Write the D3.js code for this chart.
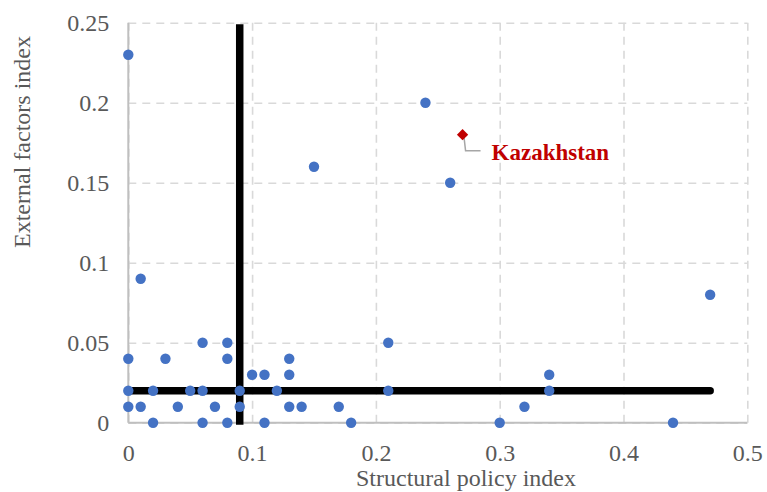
<!DOCTYPE html>
<html>
<head>
<meta charset="utf-8">
<script src="https://cdn.jsdelivr.net/npm/d3@7"></script>
<style>
  body { margin: 0; background: #fff; }
  svg { display: block; font-family: "Liberation Serif", "Times New Roman", serif; }
</style>
</head>
<body>
<div class="wrapper"></div>
<script>
// structural policy index (x) and external factors index (y) per country
const policyIndex = [0, 0.01, 0.15, 0.24, 0.26, 0.47,
  0, 0.03, 0.06, 0.08, 0.08, 0.1, 0.11, 0.13, 0.13, 0.21, 0.34,
  0, 0.02, 0.05, 0.06, 0.09, 0.12, 0.21, 0.34,
  0, 0.01, 0.04, 0.07, 0.09, 0.13, 0.14, 0.17, 0.32,
  0.02, 0.06, 0.08, 0.11, 0.18, 0.3, 0.44];
const externalIndex = [0.23, 0.09, 0.16, 0.2, 0.15, 0.08,
  0.04, 0.04, 0.05, 0.05, 0.04, 0.03, 0.03, 0.04, 0.03, 0.05, 0.03,
  0.02, 0.02, 0.02, 0.02, 0.02, 0.02, 0.02, 0.02,
  0.01, 0.01, 0.01, 0.01, 0.01, 0.01, 0.01, 0.01, 0.01,
  0, 0, 0, 0, 0, 0, 0];
const highlight = { name: "Kazakhstan", x: 0.27, y: 0.18 };
const xThreshold = 0.09;
const yThreshold = 0.02;
const yLineEnd = 0.47;
const xTicks = [0, 0.1, 0.2, 0.3, 0.4, 0.5];
const yTicks = [0, 0.05, 0.1, 0.15, 0.2, 0.25];

const width = 767, height = 492;
const plotLeft = 128.3, plotRight = 747.3, plotTop = 22.7, plotBottom = 422.7;

const svg = d3.select(".wrapper").append("svg")
  .attr("width", width)
  .attr("height", height);

const x = d3.scaleLinear().domain([0, 0.5]).range([plotLeft, plotRight]);
const y = d3.scaleLinear().domain([0, 0.25]).range([plotBottom, plotTop]);

// gridlines + tick labels
const xAxis = svg.append("g")
  .attr("transform", "translate(0," + plotBottom + ")")
  .call(d3.axisBottom(x).tickValues(xTicks).tickFormat(d3.format("")).tickSize(-(plotBottom - plotTop)).tickPadding(0));
const yAxis = svg.append("g")
  .attr("transform", "translate(" + plotLeft + ",0)")
  .call(d3.axisLeft(y).tickValues(yTicks).tickFormat(d3.format("")).tickSize(-(plotRight - plotLeft)).tickPadding(0));

[xAxis, yAxis].forEach(g => {
  g.select(".domain").remove();
  g.selectAll(".tick line")
    .attr("stroke", "#d9d9d9")
    .attr("stroke-width", 1.6)
    .attr("stroke-dasharray", "8,6");
  g.selectAll(".tick text")
    .attr("fill", "#595959")
    .style("font-size", "24px")
    .style("font-family", "Liberation Serif, serif");
});
xAxis.selectAll(".tick text").attr("y", 38).attr("dy", null);
yAxis.selectAll(".tick text").attr("x", -19).attr("dy", "0.34em");

// axis lines
svg.append("line")
  .attr("x1", x(0)).attr("x2", x(0.5))
  .attr("y1", y(0)).attr("y2", y(0))
  .attr("stroke", "#bfbfbf").attr("stroke-width", 2);
svg.append("line")
  .attr("x1", x(0)).attr("x2", x(0))
  .attr("y1", y(0)).attr("y2", y(0.25))
  .attr("stroke", "#bfbfbf").attr("stroke-width", 2);

// threshold lines
svg.append("line")
  .attr("x1", x(xThreshold)).attr("x2", x(xThreshold))
  .attr("y1", y(0.25) + 1.5).attr("y2", y(0) + 2)
  .attr("stroke", "#000").attr("stroke-width", 7.5);
svg.append("line")
  .attr("x1", x(0)).attr("x2", x(yLineEnd))
  .attr("y1", y(yThreshold)).attr("y2", y(yThreshold))
  .attr("stroke", "#000").attr("stroke-width", 7.5)
  .attr("stroke-linecap", "round");

// points
svg.append("g")
  .selectAll("circle")
  .data(d3.range(policyIndex.length))
  .enter()
  .append("circle")
  .attr("cx", i => x(policyIndex[i]))
  .attr("cy", i => y(externalIndex[i]))
  .attr("r", 5.2)
  .attr("fill", "#4472c4");

// highlighted country
const hx = x(highlight.x), hy = y(highlight.y);
svg.append("path")
  .attr("d", "M" + (hx + 1.5) + "," + (hy + 3) + "L" + (hx + 3) + "," + (hy + 16) + "L" + (hx + 18) + "," + (hy + 16))
  .attr("fill", "none")
  .attr("stroke", "#a6a6a6")
  .attr("stroke-width", 1.5);
svg.append("rect")
  .attr("x", hx - 4).attr("y", hy - 4)
  .attr("width", 8).attr("height", 8)
  .attr("transform", "rotate(45," + hx + "," + hy + ")")
  .attr("fill", "#c00000");
svg.append("text")
  .attr("x", hx + 29)
  .attr("y", hy + 25)
  .attr("fill", "#c00000")
  .style("font-size", "23px")
  .style("font-weight", "bold")
  .text(highlight.name);

// axis titles
svg.append("text")
  .attr("x", 466)
  .attr("y", 486)
  .attr("text-anchor", "middle")
  .attr("fill", "#595959")
  .style("font-size", "24px")
  .text("Structural policy index");
svg.append("text")
  .attr("transform", "translate(30,142) rotate(-90)")
  .attr("text-anchor", "middle")
  .attr("fill", "#595959")
  .style("font-size", "24px")
  .text("External factors index");
</script>
</body>
</html>
